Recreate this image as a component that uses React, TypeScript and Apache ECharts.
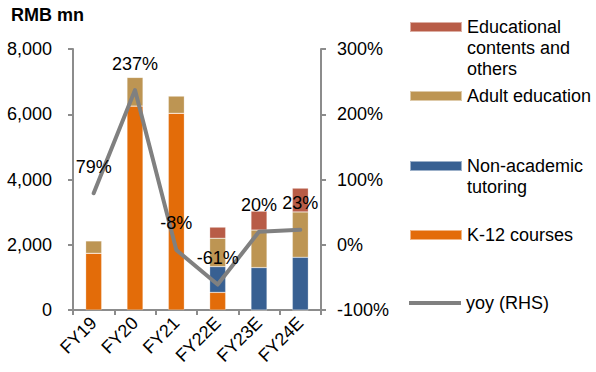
import React, { useEffect, useRef } from "react";
import * as echarts from "echarts";

const categories = ["FY19", "FY20", "FY21", "FY22E", "FY23E", "FY24E"];
const k12 = [1740, 6250, 6030, 540, 0, 0];
const nonAcademic = [0, 0, 0, 790, 1300, 1615];
const adultEdu = [380, 880, 530, 870, 1150, 1390];
const eduContents = [0, 0, 0, 340, 580, 730];
const yoy = [79, 237, -8, -61, 20, 23];
const yoyLabels = ["79%", "237%", "-8%", "-61%", "20%", "23%"];

const FONT = "'Liberation Sans', Arial, sans-serif";
const AXIS_COLOR = "#8c8c8c";

export default function App() {
  const ref = useRef<HTMLDivElement>(null);
  useEffect(() => {
    document.body.style.margin = "0";
    if (!ref.current) return;
    const chart = echarts.init(ref.current, undefined, { renderer: "svg" });
    const legendBase = {
      left: 409,
      orient: "vertical",
      padding: 0,
      itemWidth: 52,
      itemHeight: 10,
      icon: "rect",
      selectedMode: false,
      textStyle: { fontFamily: FONT, fontSize: 18, color: "#000", lineHeight: 21 },
    };
    const barSeries = (name: string, data: number[], color: string) => ({
      name,
      type: "bar",
      stack: "rev",
      data,
      barWidth: 16,
      yAxisIndex: 0,
      itemStyle: { color, borderColor: "rgba(255,255,255,0.5)", borderWidth: 0.5 },
    });
    chart.setOption({
      animation: false,
      textStyle: { fontFamily: FONT },
      title: {
        text: "RMB mn",
        left: 11,
        top: 6,
        padding: 0,
        textStyle: { fontFamily: FONT, fontSize: 18, fontWeight: "bold", color: "#000" },
      },
      grid: { left: 73, right: 275, top: 49, bottom: 62 },
      legend: [
        {
          ...legendBase,
          top: -25.5,
          data: ["Educational contents and others"],
          formatter: () => " \n \nEducational\ncontents and\nothers",
        },
        { ...legendBase, top: 85.5, data: ["Adult education"] },
        {
          ...legendBase,
          top: 134.5,
          data: ["Non-academic tutoring"],
          formatter: () => " \nNon-academic\ntutoring",
        },
        { ...legendBase, top: 224.5, data: ["K-12 courses"] },
        { ...legendBase, top: 292.5, itemHeight: 4, data: ["yoy (RHS)"] },
      ],
      xAxis: {
        type: "category",
        data: categories,
        boundaryGap: true,
        axisLine: { lineStyle: { color: AXIS_COLOR, width: 2 } },
        axisTick: { show: true, length: 5, lineStyle: { color: AXIS_COLOR, width: 2 } },
        axisLabel: { rotate: 45, margin: 10, fontSize: 18, color: "#000", fontFamily: FONT },
      },
      yAxis: [
        {
          type: "value",
          min: 0,
          max: 8000,
          interval: 2000,
          splitLine: { show: false },
          axisLine: { show: true, lineStyle: { color: AXIS_COLOR, width: 2 } },
          axisTick: { show: true, length: 5, lineStyle: { color: AXIS_COLOR, width: 2 } },
          axisLabel: {
            margin: 21,
            fontSize: 18,
            color: "#000",
            fontFamily: FONT,
            formatter: (v: number) => v.toLocaleString("en-US"),
          },
        },
        {
          type: "value",
          min: -100,
          max: 300,
          interval: 100,
          position: "right",
          splitLine: { show: false },
          axisLine: { show: true, lineStyle: { color: AXIS_COLOR, width: 2 } },
          axisTick: { show: true, length: 5, lineStyle: { color: AXIS_COLOR, width: 2 } },
          axisLabel: {
            margin: 16,
            fontSize: 18,
            color: "#000",
            fontFamily: FONT,
            formatter: "{value}%",
          },
        },
      ],
      series: [
        barSeries("K-12 courses", k12, "#E36C09"),
        barSeries("Non-academic tutoring", nonAcademic, "#386092"),
        barSeries("Adult education", adultEdu, "#BD9553"),
        barSeries("Educational contents and others", eduContents, "#B85C47"),
        {
          name: "yoy (RHS)",
          type: "line",
          yAxisIndex: 1,
          data: yoy,
          symbol: "circle",
          symbolSize: 1,
          showSymbol: true,
          itemStyle: { color: "#808080" },
          lineStyle: { color: "#808080", width: 4, cap: "round", join: "round" },
          label: {
            show: true,
            position: "top",
            distance: 17,
            fontSize: 18,
            color: "#000",
            fontFamily: FONT,
            formatter: (p: any) => yoyLabels[p.dataIndex],
          },
          z: 5,
        },
      ],
    });
    return () => chart.dispose();
  }, []);
  return <div ref={ref} style={{ width: 596, height: 372 }} />;
}
